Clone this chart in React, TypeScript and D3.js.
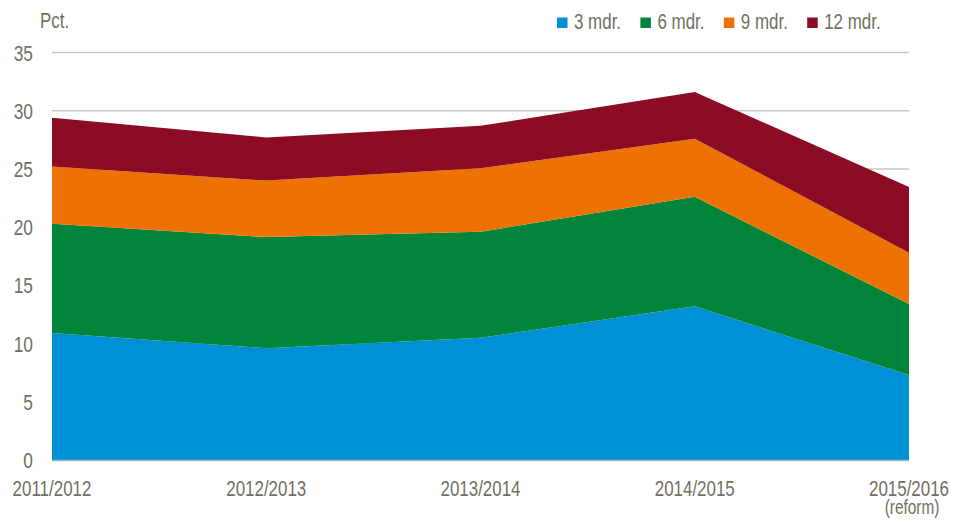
import React, { useRef, useEffect } from 'react';
import * as d3 from 'd3';

const years = ['2011/2012', '2012/2013', '2013/2014', '2014/2015', '2015/2016'];
const seriesNames = ['3 mdr.', '6 mdr.', '9 mdr.', '12 mdr.'];
const m3 = [10.9, 9.6, 10.5, 13.2, 7.3];
const m6 = [9.4, 9.55, 9.1, 9.4, 6.1];
const m9 = [4.9, 4.85, 5.45, 5.0, 4.4];
const m12 = [4.2, 3.7, 3.65, 4.0, 5.65];
const yTicks = [0, 5, 10, 15, 20, 25, 30, 35];
const colors = ['#0090d6', '#00853b', '#ee7203', '#8b0c23'];

const FONT = "'Liberation Sans', Arial, sans-serif";
const TEXT = '#707062';
const SX = 0.77; // condensed look

const App: React.FC = () => {
  const svgRef = useRef<SVGSVGElement>(null);
  const width = 962;
  const height = 522;

  useEffect(() => {
    if (!svgRef.current) return;
    const svg = d3.select(svgRef.current);
    svg.selectAll('*').remove();

    const left = 52;
    const right = 909;
    const top = 52.5;
    const bottom = 460;

    const rows = years.map((y, i) => ({
      year: y,
      '3 mdr.': m3[i],
      '6 mdr.': m6[i],
      '9 mdr.': m9[i],
      '12 mdr.': m12[i],
    }));

    const x = d3.scalePoint<string>().domain(years).range([left, right]);
    const y = d3.scaleLinear().domain([0, 35]).range([bottom, top]);

    const label = (
      g: d3.Selection<any, any, any, any>,
      tx: number,
      ty: number,
      txt: string,
      anchor = 'start',
      size = 22
    ) =>
      g
        .append('text')
        .attr('transform', `translate(${tx},${ty}) scale(${SX},1)`)
        .attr('text-anchor', anchor)
        .style('font-family', FONT)
        .style('font-size', `${size}px`)
        .style('fill', TEXT)
        .text(txt);

    // grid lines
    svg
      .append('g')
      .selectAll('line')
      .data(yTicks.filter((d) => d > 0))
      .enter()
      .append('line')
      .attr('x1', left)
      .attr('x2', right)
      .attr('y1', (d) => y(d))
      .attr('y2', (d) => y(d))
      .attr('stroke', '#c9c9bf')
      .attr('stroke-width', 1.5);

    // stacked areas
    const stack = d3.stack<any>().keys(seriesNames);
    const layers = stack(rows);
    const area = d3
      .area<any>()
      .x((d) => x(d.data.year) as number)
      .y0((d) => y(d[0]))
      .y1((d) => y(d[1]));

    svg
      .append('g')
      .selectAll('path')
      .data(layers)
      .enter()
      .append('path')
      .attr('d', (d) => area(d) as string)
      .attr('fill', (_, i) => colors[i]);

    // baseline
    svg
      .append('line')
      .attr('x1', left)
      .attr('x2', right)
      .attr('y1', y(0) + 0.5)
      .attr('y2', y(0) + 0.5)
      .attr('stroke', '#a9b4bb')
      .attr('stroke-width', 1.5);

    // y labels
    const yg = svg.append('g');
    yTicks.forEach((t) => label(yg, 33, y(t) + 8, String(t), 'end', 22.5));

    // x labels
    const xg = svg.append('g');
    years.forEach((yr) => label(xg, x(yr) as number, 496, yr, 'middle'));
    label(xg, (x('2015/2016') as number) + 3, 514, '(reform)', 'middle', 20);

    // unit label
    label(svg, 40, 28, 'Pct.');

    // legend
    const lg = svg.append('g');
    seriesNames.forEach((name, i) => {
      const lx = 557 + i * 83.4;
      lg.append('rect')
        .attr('x', lx)
        .attr('y', 17.5)
        .attr('width', 10.5)
        .attr('height', 10.5)
        .attr('fill', colors[i]);
      label(lg, lx + 17, 29, name);
    });
  }, []);

  return (
    <div style={{ position: 'absolute', left: 0, top: 0 }}>
      <svg ref={svgRef} width={width} height={height} style={{ display: 'block', background: '#fff' }}></svg>
    </div>
  );
};

export default App;
